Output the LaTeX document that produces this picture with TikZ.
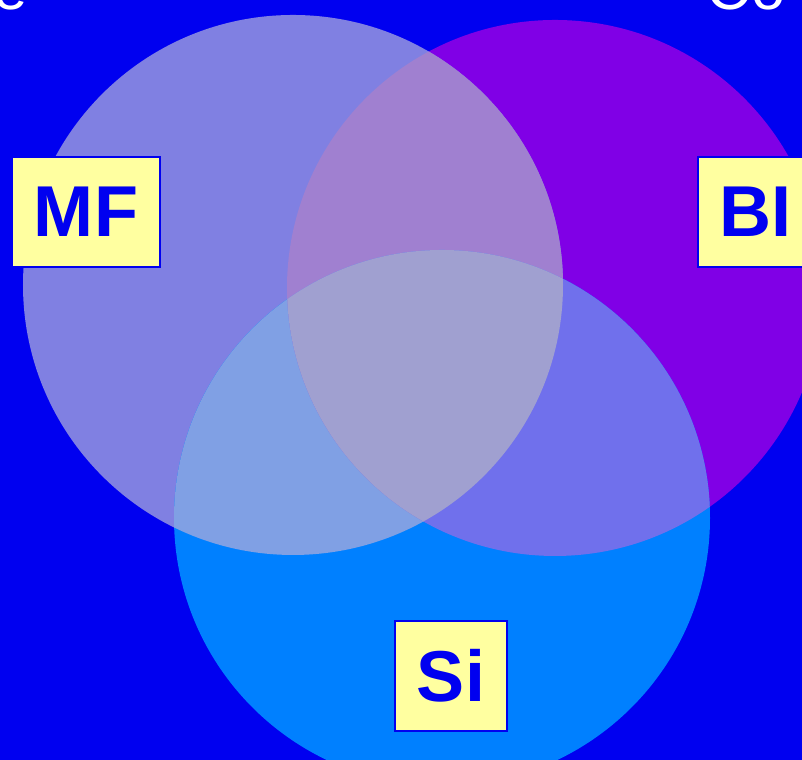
\documentclass[tikz,border=0pt]{standalone}
\usepackage{fontspec}
\usepackage{tikz}
\usepackage{xcolor}
\usetikzlibrary{positioning, calc}
\newfontfamily\labelfont{Liberation Sans}
\definecolor{bgblue}{RGB}{0,0,240}
\definecolor{mfcolor}{RGB}{128,128,226}
\definecolor{bicolor}{RGB}{128,0,230}
\definecolor{sicolor}{RGB}{0,128,255}
\definecolor{mfbicolor}{RGB}{160,128,208}
\definecolor{mfsicolor}{RGB}{128,160,228}
\definecolor{bisicolor}{RGB}{112,112,236}
\definecolor{allcolor}{RGB}{160,160,208}
\definecolor{boxyellow}{RGB}{255,255,160}

\begin{document}
\begin{tikzpicture}[
    setbox/.style={rectangle, draw=bgblue, line width=0.6pt, fill=boxyellow, inner sep=0pt,
        font=\labelfont\bfseries\fontsize{20.5}{24}\selectfont, text=bgblue, minimum height=1.1cm},
    titlebit/.style={text=white, font=\labelfont\fontsize{17.5}{20}\selectfont, inner sep=0pt}
]
    % Background
    \useasboundingbox (0,0) rectangle (8.02,7.6);
    \clip (0,0) rectangle (8.02,7.6);
    \fill[bgblue] (0,0) rectangle (8.02,7.6);

    % Circle centres
    \coordinate (mfc) at (2.93,4.75);
    \coordinate (bic) at (5.55,4.72);
    \coordinate (sic) at (4.42,2.42);

    % Single circles
    \fill[bicolor] (bic) circle (2.68);
    \fill[mfcolor] (mfc) circle (2.70);
    \fill[sicolor] (sic) circle (2.68);

    % Overlaps
    \begin{scope}
        \clip (mfc) circle (2.70);
        \fill[mfbicolor] (bic) circle (2.68);
        \fill[mfsicolor] (sic) circle (2.68);
    \end{scope}
    \begin{scope}
        \clip (bic) circle (2.68);
        \fill[bisicolor] (sic) circle (2.68);
    \end{scope}
    \begin{scope}
        \clip (mfc) circle (2.70);
        \clip (bic) circle (2.68);
        \fill[allcolor] (sic) circle (2.68);
    \end{scope}

    % Labels
    \node[setbox, minimum width=1.48cm] (mf) at (0.86,5.48) {MF};
    \node[setbox, minimum width=1.15cm] (bi) at (7.555,5.48) {BI};
    \node[setbox, minimum width=1.12cm] (si) at (4.51,0.84) {Si};

    % Title fragments cut by the edge
    \node[titlebit, anchor=base east] (titleleft) at (0.28,7.50) {e};
    \node[titlebit, anchor=base west] (titleright) at (7.06,7.50) {Co};
\end{tikzpicture}
\end{document}
